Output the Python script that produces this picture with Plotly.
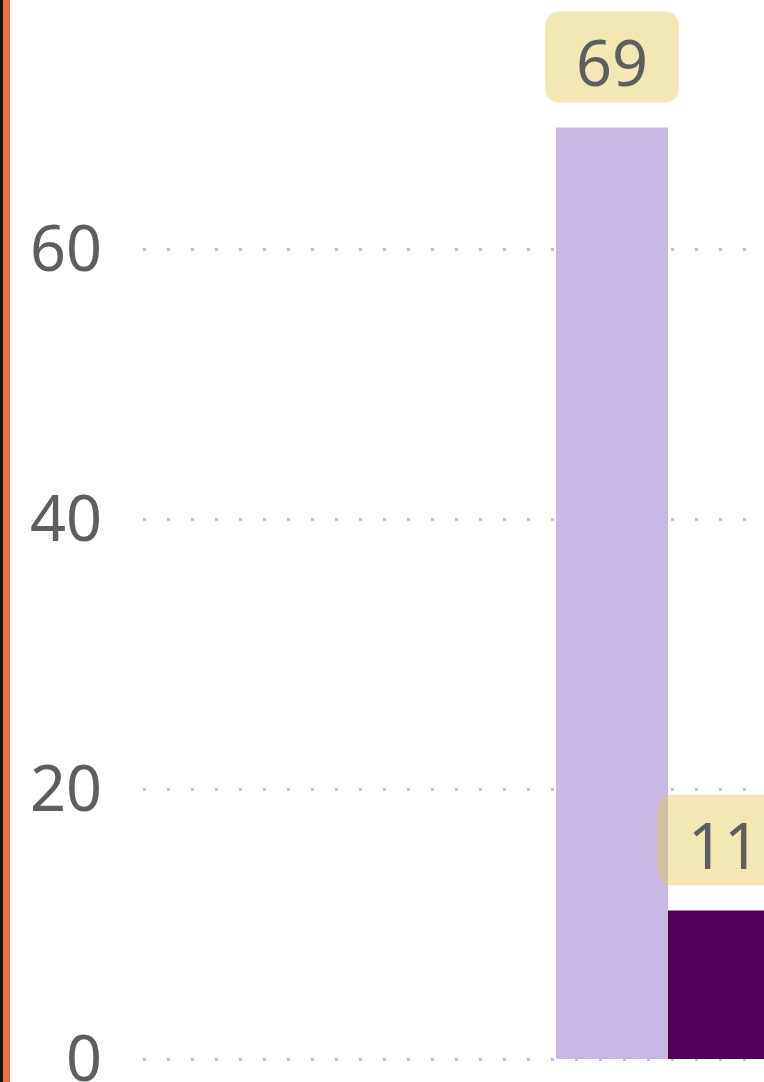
import plotly.graph_objects as go

# Values
groups = [0]
series_names = ["Previous", "Current"]
series_values = [[69], [11]]
series_colors = ["#C9B8E6", "#500058"]
y_ticks = [0, 20, 40, 60]

BARGAP = 0.3
LABEL_FILL = "rgba(226,200,74,0.42)"
TEXT_COLOR = "#5E5E5E"
FONT = "Noto Sans"
PX_PER_UNIT = 13.5

fig = go.Figure()
for name, vals, col in zip(series_names, series_values, series_colors):
    fig.add_trace(go.Bar(x=groups, y=vals, name=name, marker_color=col,
                         marker_line_width=0, showlegend=False, hoverinfo="skip"))

# Centres of the grouped bars, derived from the group layout
n = len(series_names)
bar_w = (1 - BARGAP) / n
shapes = []
annotations = []
for i, vals in enumerate(series_values):
    for g, v in zip(groups, vals):
        cx = g - (1 - BARGAP) / 2 + bar_w * (i + 0.5)
        # rounded label box, sized in pixels and anchored at the bar top
        x0, x1, y0, y1, r = -67, 67, 25, 116, 16
        path = (f"M {x0+r},{y0} L {x1-r},{y0} Q {x1},{y0} {x1},{y0+r} "
                f"L {x1},{y1-r} Q {x1},{y1} {x1-r},{y1} L {x0+r},{y1} "
                f"Q {x0},{y1} {x0},{y1-r} L {x0},{y0+r} Q {x0},{y0} {x0+r},{y0} Z")
        shapes.append(dict(type="path", xref="x", yref="y", xsizemode="pixel",
                           ysizemode="pixel", xanchor=cx, yanchor=v, path=path,
                           fillcolor=LABEL_FILL, line_width=0, layer="above"))
        annotations.append(dict(x=cx, y=v, xref="x", yref="y", text=str(v),
                                showarrow=False, yanchor="middle", yshift=66,
                                font=dict(family=FONT, size=63, color=TEXT_COLOR)))

# Side accent strip
shapes.append(dict(type="rect", xref="paper", yref="paper", xsizemode="pixel",
                   xanchor=0, x0=-143, x1=-140, y0=-1, y1=2,
                   fillcolor="#111111", line_width=0, layer="below"))
shapes.append(dict(type="rect", xref="paper", yref="paper", xsizemode="pixel",
                   xanchor=0, x0=-140, x1=-133, y0=-1, y1=2,
                   fillcolor="#E8703A", line_width=0, layer="below"))

fig.update_layout(
    width=764, height=1082,
    margin=dict(l=143, r=0, t=0, b=19, autoexpand=False),
    paper_bgcolor="white", plot_bgcolor="white",
    barmode="group", bargap=BARGAP, bargroupgap=0,
    shapes=shapes, annotations=annotations,
    font=dict(family=FONT, color=TEXT_COLOR),
)
fig.update_xaxes(range=[-1.640625, 0.300], showticklabels=False, showgrid=False,
                 zeroline=False, showline=False, ticks="", automargin=False)
fig.update_yaxes(range=[-4 / PX_PER_UNIT, 1059 / PX_PER_UNIT], tickvals=y_ticks,
                 showgrid=True, gridcolor="#C4C4C4", gridwidth=3,
                 griddash="3px,21px", zeroline=False, showline=False, ticks="",
                 ticklabelstandoff=40, ticklabeloverflow="allow", automargin=False,
                 tickfont=dict(family=FONT, size=63, color=TEXT_COLOR))

fig.write_html("out.html")
